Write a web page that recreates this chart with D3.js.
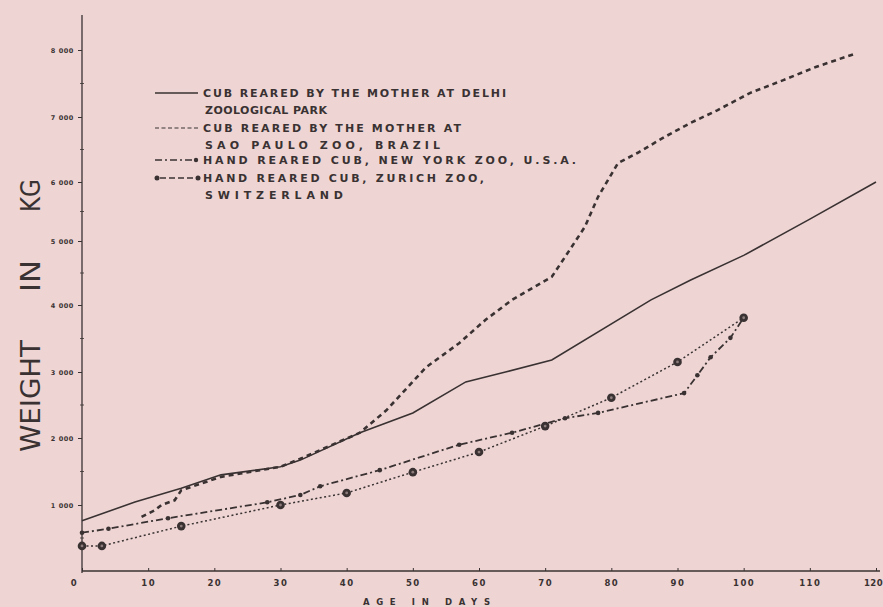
<!DOCTYPE html>
<html>
<head>
<meta charset="utf-8">
<title>Weight of tiger cubs</title>
<script src="https://cdn.jsdelivr.net/npm/d3@7"></script>
<style>
  body { margin: 0; background: #eed5d4; }
  svg { display: block; }
</style>
</head>
<body>
<script>
// values: age in days, weight in grams
const delhiDays   = [0, 8, 15, 21, 30, 33, 42, 50, 58, 64, 71, 86, 92, 100, 110, 120]
const delhiWeight = [760, 1045, 1250, 1450, 1570, 1670, 2080, 2380, 2850, 3000, 3180, 4080, 4390, 4775, 5370, 6000]

const saoDays   = [9, 11, 12, 14, 15, 21, 30, 33, 42, 46, 52, 57, 61, 65, 71, 73, 76, 78, 81, 84, 88, 92, 96, 101, 106, 111, 117]
const saoWeight = [820, 920, 1000, 1070, 1220, 1420, 1570, 1690, 2080, 2420, 3070, 3430, 3780, 4080, 4440, 4750, 5240, 5750, 6290, 6450, 6690, 6910, 7100, 7360, 7550, 7750, 7950]

const nyDays   = [0, 4, 13, 28, 33, 36, 45, 57, 65, 73, 78, 91, 93, 95, 98, 100]
const nyWeight = [580, 640, 800, 1040, 1150, 1280, 1520, 1900, 2080, 2300, 2380, 2680, 2950, 3220, 3510, 3810]

const zurichDays   = [0, 3, 15, 30, 40, 50, 60, 70, 80, 90, 100]
const zurichWeight = [380, 380, 680, 1000, 1180, 1490, 1790, 2180, 2610, 3150, 3810]

const xTicks = [0, 10, 20, 30, 40, 50, 60, 70, 80, 90, 100, 110, 120]
const yTicks = [1000, 2000, 3000, 4000, 5000, 6000, 7000, 8000]
const yTickLabels = ["1 000", "2 000", "3 000", "4 000", "5 000", "6 000", "7 000", "8 000"]

const legendLines = [
  ["CUB REARED BY THE MOTHER AT DELHI", "ZOOLOGICAL PARK"],
  ["CUB REARED BY THE MOTHER AT", "SAO PAULO ZOO, BRAZIL"],
  ["HAND REARED CUB, NEW YORK ZOO, U.S.A."],
  ["HAND REARED CUB, ZURICH ZOO,", "SWITZERLAND"]
]

const w = 883, h = 607
const ink = "#3a3232"
const svg = d3.select("body").append("svg").attr("width", w).attr("height", h)

// hand drawn axis: tick spacing is not quite even, so the y scale follows it
const x = d3.scaleLinear().domain([0, 120]).range([82, 876])
const y = d3.scaleLinear()
  .domain([0, 1000, 2000, 3000, 4000, 5000, 6000, 7000, 8000])
  .range([571, 505, 438, 372, 305, 241, 182, 117, 50])

// axes
let xAxis = d3.axisBottom(x).tickValues(xTicks).tickSizeInner(-3).tickSizeOuter(0).tickPadding(9)
let gx = svg.append("g").attr("transform", "translate(0," + y(0) + ")").call(xAxis)
gx.select(".domain").attr("stroke", ink).attr("stroke-width", 1.3).attr("d", "M" + x(0) + ",0H880")
gx.selectAll(".tick line").attr("stroke", ink)
gx.selectAll(".tick text")
  .attr("fill", ink).attr("font-family", "DejaVu Sans").attr("font-weight", "bold")
  .attr("font-size", 8.5).attr("letter-spacing", d => d == 120 ? 0.5 : 1.5)
  .attr("dx", d => d == 0 ? -8 : d == 120 ? -3 : 0)

let yAxis = d3.axisLeft(y).tickValues(yTicks).tickSize(4).tickPadding(4)
  .tickFormat((d, i) => yTickLabels[i])
let gy = svg.append("g").attr("transform", "translate(" + x(0) + ",0)").call(yAxis)
gy.select(".domain").attr("stroke", ink).attr("stroke-width", 1.3).attr("d", "M0," + (y(0) + 2) + "V15")
gy.selectAll(".tick line").attr("stroke", ink)
gy.selectAll(".tick text")
  .attr("fill", ink).attr("font-family", "DejaVu Sans").attr("font-weight", "bold")
  .attr("font-size", 6.5).attr("letter-spacing", 0.6)

// minor ticks on y
svg.append("g").selectAll("line")
  .data(d3.range(500, 8000, 1000))
  .enter().append("line")
  .attr("x1", x(0) - 2).attr("x2", x(0) + 2)
  .attr("y1", d => y(d)).attr("y2", d => y(d))
  .attr("stroke", ink).attr("stroke-width", 0.8)

// axis titles
svg.append("text").text("AGE  IN  DAYS")
  .attr("x", 363).attr("y", 605).attr("textLength", 127)
  .attr("font-family", "DejaVu Sans").attr("font-weight", "bold").attr("font-size", 8.5).attr("fill", ink)

let yTitle = [["WEIGHT", 452, 112], ["IN", 292, 32], ["KG", 212, 33]]
yTitle.forEach(t => {
  svg.append("text").text(t[0])
    .attr("transform", "translate(40," + t[1] + ") rotate(-90)")
    .attr("textLength", t[2]).attr("lengthAdjust", "spacingAndGlyphs")
    .attr("font-family", "DejaVu Sans").attr("font-size", 26).attr("fill", ink)
})

// series
let line = d3.line().x(d => x(d[0])).y(d => y(d[1]))
let zip = (a, b) => a.map((d, i) => [d, b[i]])

let delhi = zip(delhiDays, delhiWeight)
let sao = zip(saoDays, saoWeight)
let ny = zip(nyDays, nyWeight)
let zurich = zip(zurichDays, zurichWeight)

svg.append("path").datum(zurich).attr("d", line)
  .attr("fill", "none").attr("stroke", ink).attr("stroke-width", 1.5).attr("stroke-dasharray", "2,2.5")
svg.append("path").datum(ny).attr("d", line)
  .attr("fill", "none").attr("stroke", ink).attr("stroke-width", 1.8).attr("stroke-dasharray", "7,3,2,3")
svg.append("path").datum(delhi).attr("d", line)
  .attr("fill", "none").attr("stroke", ink).attr("stroke-width", 1.6)
svg.append("path").datum(sao).attr("d", line)
  .attr("fill", "none").attr("stroke", ink).attr("stroke-width", 2.6).attr("stroke-dasharray", "5,4")

svg.append("g").selectAll("circle").data(ny).enter().append("circle")
  .attr("cx", d => x(d[0])).attr("cy", d => y(d[1])).attr("r", 2.3).attr("fill", ink)

let zc = svg.append("g").selectAll("g").data(zurich).enter().append("g")
  .attr("transform", d => "translate(" + x(d[0]) + "," + y(d[1]) + ")")
zc.append("circle").attr("r", 4.3).attr("fill", ink)
zc.append("circle").attr("r", 1.4).attr("fill", "#8c7c7c")

// legend
let lg = svg.append("g").attr("font-family", "DejaVu Sans").attr("font-weight", "bold")
  .attr("font-size", 11).attr("fill", ink)
let rowY = [93, 128, 160, 178]
let textLen = [[303, 122], [258, 235], [373], [281, 138]]
legendLines.forEach((lines, i) => {
  lines.forEach((t, j) => {
    lg.append("text").text(t)
      .attr("x", j == 0 ? 203 : 205).attr("y", rowY[i] + 4 + j * 17)
      .attr("textLength", textLen[i][j]).attr("lengthAdjust", "spacing")
  })
})
lg.append("line").attr("x1", 155).attr("x2", 198).attr("y1", rowY[0]).attr("y2", rowY[0])
  .attr("stroke", ink).attr("stroke-width", 1.5)
lg.append("line").attr("x1", 155).attr("x2", 198).attr("y1", rowY[1]).attr("y2", rowY[1])
  .attr("stroke", ink).attr("stroke-width", 1.1).attr("stroke-dasharray", "4,2.5")
lg.append("line").attr("x1", 155).attr("x2", 196).attr("y1", rowY[2]).attr("y2", rowY[2])
  .attr("stroke", ink).attr("stroke-width", 1.3).attr("stroke-dasharray", "7,3,2,3")
lg.append("circle").attr("cx", 196).attr("cy", rowY[2]).attr("r", 2.2)
lg.append("line").attr("x1", 160).attr("x2", 195).attr("y1", rowY[3]).attr("y2", rowY[3])
  .attr("stroke", ink).attr("stroke-width", 1.3).attr("stroke-dasharray", "6,3")
lg.selectAll(".lc").data([157, 198]).enter().append("circle")
  .attr("cx", d => d).attr("cy", rowY[3]).attr("r", 2.5)
</script>
</body>
</html>
